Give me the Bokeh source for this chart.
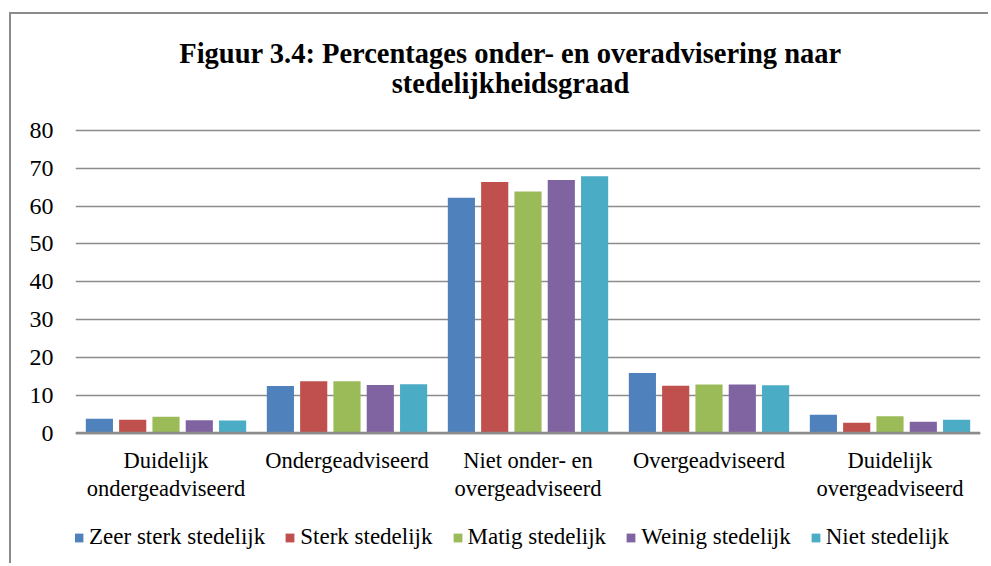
from bokeh.plotting import figure
from bokeh.models import ColumnDataSource, FactorRange, FixedTicker, Legend, LegendItem, Span
from bokeh.core.properties import value
from bokeh.transform import dodge
from bokeh.embed import file_html
from bokeh.resources import INLINE

# ---------------- data ----------------
title_lines = ["Figuur 3.4: Percentages onder- en overadvisering naar", "stedelijkheidsgraad"]
categories = ["Duidelijk\nondergeadviseerd", "Ondergeadviseerd", "Niet onder- en\novergeadviseerd",
              "Overgeadviseerd", "Duidelijk\novergeadviseerd"]
series_names = ["Zeer sterk stedelijk", "Sterk stedelijk", "Matig stedelijk", "Weinig stedelijk", "Niet stedelijk"]
zeer_sterk = [3.8, 12.4, 62.2, 15.9, 4.8]
sterk = [3.5, 13.7, 66.4, 12.5, 2.7]
matig = [4.3, 13.7, 63.9, 12.8, 4.4]
weinig = [3.4, 12.7, 66.9, 12.8, 3.0]
niet = [3.3, 12.9, 67.9, 12.6, 3.5]
y_ticks = [0, 10, 20, 30, 40, 50, 60, 70, 80]

# ---------------- style / layout ----------------
colors = ["#4F81BD", "#C0504D", "#9BBB59", "#8064A2", "#4BACC6"]
FONT = "Liberation Serif"
GRID = "#8c8c8c"
W, H = 979, 551
Y_MAX = 80
PLOT_TOP_PX = 116      # canvas px where value 80 lies
PLOT_H_PX = 302.5      # px between 0 and 80
ppu = PLOT_H_PX / Y_MAX
y_hi = Y_MAX + PLOT_TOP_PX / ppu
y_lo = -(H - PLOT_TOP_PX - PLOT_H_PX) / ppu

source = ColumnDataSource(dict(cat=categories, s0=zeer_sterk, s1=sterk, s2=matig, s3=weinig, s4=niet))

p = figure(x_range=FactorRange(*categories, range_padding=0), y_range=(y_lo, y_hi),
           width=W, height=H, output_backend="svg", toolbar_location=None,
           x_axis_location=None,
           min_border_left=64, min_border_right=W - 64 - 905, min_border_top=0, min_border_bottom=0,
           styles={"border-left": "2px solid #8b8b8b", "border-top": "2px solid #8b8b8b",
                   "margin-left": "9px", "margin-top": "12px"})

# bars
offsets = [-0.368, -0.184, 0.0, 0.184, 0.368]
renderers = []
for i, (name, off) in enumerate(zip(series_names, offsets)):
    r = p.vbar(x=dodge("cat", off, range=p.x_range), top="s%d" % i, width=0.15, source=source,
               fill_color=colors[i], line_color=None)
    renderers.append(r)

# x axis line at 0
p.add_layout(Span(location=0, dimension="width", line_color=GRID, line_width=2.5))

# category labels
p.text(x=categories, y=[0] * len(categories), text=categories, text_font=value(FONT),
       text_font_size="22.5px", text_color="black", text_align="center", text_baseline="top",
       text_line_height=1.11, y_offset=15)

# title
mid = categories[2]
p.text(x=[mid, mid], y=[Y_MAX, Y_MAX], text=title_lines, text_font=value(FONT),
       text_font_size="28.5px", text_font_style="bold", text_color="black", text_align="center",
       text_baseline="alphabetic", x_offset=-17.5, y_offset=[-77, -47])

# legend
legend = Legend(items=[LegendItem(label=n, renderers=[r]) for n, r in zip(series_names, renderers)],
                orientation="horizontal", location=(-2, 15), label_text_font=FONT,
                label_text_font_size="23px", label_text_color="black", glyph_width=11, glyph_height=11,
                label_standoff=5, spacing=19, padding=0, margin=0, border_line_color=None,
                background_fill_alpha=0)
p.add_layout(legend, "center")

p.outline_line_color = None
p.xgrid.grid_line_color = None
p.yaxis.ticker = FixedTicker(ticks=y_ticks)
p.ygrid.ticker = FixedTicker(ticks=y_ticks)
p.ygrid.grid_line_color = GRID
p.ygrid.grid_line_width = 1.5
p.yaxis.axis_line_color = None
p.yaxis.major_tick_line_color = None
p.yaxis.minor_tick_line_color = None
p.yaxis.major_tick_out = 0
p.yaxis.major_tick_in = 0
p.yaxis.major_label_standoff = 22
p.yaxis.major_label_text_font = FONT
p.yaxis.major_label_text_font_size = "24px"
p.yaxis.major_label_text_color = "black"

open("out.html", "w").write(file_html(p, INLINE))
